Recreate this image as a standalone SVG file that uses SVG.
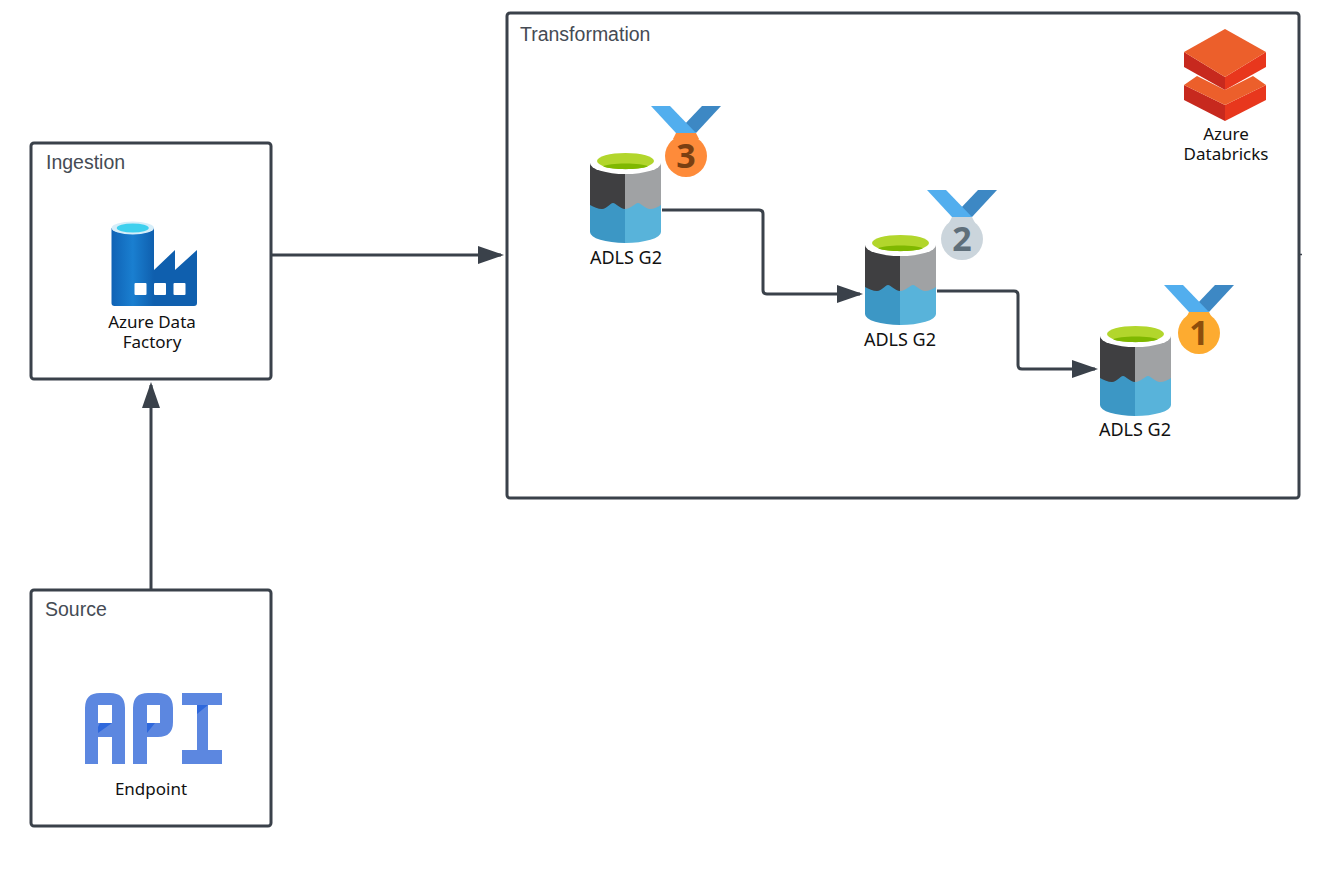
<svg xmlns="http://www.w3.org/2000/svg" width="1343" height="881" viewBox="0 0 1343 881">
<style>
.box{fill:#fff;stroke:#3a414a;stroke-width:3}
.title{font:19.500px "Liberation Sans",Arial,sans-serif;fill:#454b54}
.lbl{font:17px "Noto Sans","Open Sans",sans-serif;fill:#111;text-anchor:middle}
.adls{font-size:18px}
.conn{fill:none;stroke:#3a414a;stroke-width:3;stroke-linejoin:round}
.digit{font:bold 34px "Noto Sans",sans-serif;text-anchor:middle}
.api{fill:#5c87e0;fill-rule:evenodd}
</style>
<defs>
<marker id="arrow" markerUnits="userSpaceOnUse" markerWidth="28" markerHeight="20" refX="23" refY="9" orient="auto">
<path d="M0 0L26 9L0 18Z" fill="#3a414a"/>
</marker>
<linearGradient id="adf" x1="0" x2="1" y1="0" y2="0"><stop offset="0" stop-color="#0f62b5"/><stop offset=".5" stop-color="#1a7fd0"/><stop offset="1" stop-color="#0f5fae"/></linearGradient>
<g id="cyl">
<path d="M0 11V80A35.500 11 0 0 0 35 91V11Z" fill="#3c97c5"/>
<path d="M35 11V91A35.500 11 0 0 0 71 80V11Z" fill="#58b3da"/>
<path d="M0 11V53C4 55 8 57 12 57C17 57 20 51 23 51C26 51 30 57 35 57V11Z" fill="#3f3f41"/>
<path d="M35 11V57C41 57 45 51 48 51C51 51 55 57 60 57C64 57 68 55 71 53V11Z" fill="#a0a2a4"/>
<ellipse cx="35.500" cy="11" rx="35.500" ry="11" fill="#fff"/>
<ellipse cx="35.500" cy="9" rx="28.500" ry="8" fill="#b2d62c"/>
<path d="M13 14.500C18 10.500 53 10.500 58 14.500C50 18 21 18 13 14.500Z" fill="#7fb800"/>
</g>
<g id="ribbon">
<path d="M721 106H702L683 126L696 133Z" fill="#3d88c4"/>
<path d="M651 106H670L696 133H676Z" fill="#52aeee"/>
</g>
</defs>

<g id="ingestion">
<rect class="box" x="31" y="143" width="240" height="236" rx="3"/>
<text class="title" x="46" y="169">Ingestion</text>
<path d="M154 270L175 250V270L197 250V303Q197 306 194 306H154Z" fill="#0f5fae"/>
<path d="M111.500 228V303Q111.500 306 114.500 306H154V228Z" fill="url(#adf)"/>
<ellipse cx="132.750" cy="228" rx="21.250" ry="6.500" fill="#d6eef9"/>
<ellipse cx="132.750" cy="228" rx="16" ry="4.500" fill="#3fd0ee"/>
<rect x="134.500" y="283" width="12" height="12" rx="1" fill="#fff"/>
<rect x="154" y="283" width="12" height="12" rx="1" fill="#fff"/>
<rect x="173.500" y="283" width="12" height="12" rx="1" fill="#fff"/>
<text class="lbl"><tspan x="152" y="328">Azure Data</tspan><tspan x="152" y="348">Factory</tspan></text>
</g>

<g id="source">
<rect class="box" x="31" y="590" width="240" height="236" rx="3"/>
<text class="title" x="45" y="616">Source</text>
<path class="api" d="M85 764V708Q85 693 100 693H110Q125 693 125 708V764H112V737H98V764ZM98 705V723H112V705Z"/>
<path class="api" d="M133 764V708Q133 693 148 693H158Q173 693 173 708V722Q173 737 158 737H147V764ZM147 705V723H160V705Z"/>
<path class="api" d="M182 693H222V705H208V750H222V764H182V750H197V705H182Z"/>
<path d="M100 723H112L98 733V727ZM147 723H155L147 733Z" fill="#2f68dc"/>
<path d="M197 705H208L197 714Z" fill="#2f68dc"/>
<text class="lbl" x="151" y="795">Endpoint</text>
</g>

<g id="transformation">
<rect class="box" x="507" y="13" width="792" height="485" rx="3"/>
<text class="title" x="520" y="41">Transformation</text>
</g>

<g id="databricks">
<path d="M1184 85V100L1225 121V105Z" fill="#c7291e"/>
<path d="M1225 105V121L1266 100V85Z" fill="#e8371d"/>
<path d="M1184 85L1197 76L1225 90L1253 76L1266 85L1225 105Z" fill="#ec5f2b"/>
<path d="M1184 52V67L1225 90V77Z" fill="#c7291e"/>
<path d="M1225 77V90L1266 67V52Z" fill="#e8371d"/>
<path d="M1225 29L1184 52L1225 77L1266 52Z" fill="#ec5f2b"/>
<text class="lbl"><tspan x="1226" y="140">Azure</tspan><tspan x="1226" y="160">Databricks</tspan></text>
</g>

<g id="adls-bronze">
<use href="#cyl" x="590" y="152"/>
<text class="lbl adls" x="626" y="264">ADLS G2</text>
<use href="#ribbon"/>
<path d="M676 133H696L699 139H673Z" fill="#fe8b3a"/>
<circle cx="686" cy="156" r="21" fill="#fe8b3a"/>
<text class="digit" x="686" y="168" fill="#7a3f12">3</text>
</g>

<g id="adls-silver">
<use href="#cyl" x="865" y="234"/>
<text class="lbl adls" x="900" y="346">ADLS G2</text>
<use href="#ribbon" x="276" y="84"/>
<path d="M952 217H972L975 223H949Z" fill="#cbd5dc"/>
<circle cx="962" cy="239" r="21" fill="#cbd5dc"/>
<text class="digit" x="962" y="251" fill="#5f6f7a">2</text>
</g>

<g id="adls-gold">
<use href="#cyl" x="1100" y="325"/>
<text class="lbl adls" x="1135" y="436">ADLS G2</text>
<use href="#ribbon" x="513" y="179"/>
<path d="M1189 312H1209L1212 318H1186Z" fill="#fdab30"/>
<circle cx="1199" cy="333" r="21" fill="#fdab30"/>
<text class="digit" x="1199" y="345" fill="#8d4e0c">1</text>
</g>

<g id="connectors">
<path class="conn" d="M272 255H501" marker-end="url(#arrow)"/>
<path class="conn" d="M151 589V385" marker-end="url(#arrow)"/>
<path class="conn" d="M662 210H759Q763 210 763 214V290Q763 294 767 294H860" marker-end="url(#arrow)"/>
<path class="conn" d="M937 291H1014Q1018 291 1018 295V365Q1018 369 1022 369H1095" marker-end="url(#arrow)"/>
<path class="conn" style="stroke-width:1.500" d="M1298 254.500H1302"/>
</g>
</svg>
